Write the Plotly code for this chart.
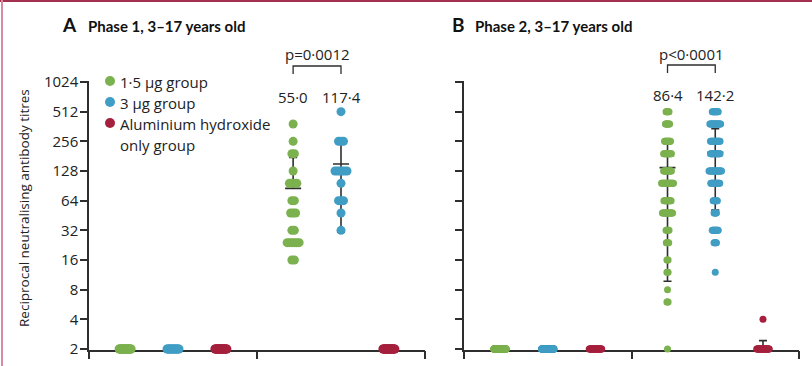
import math
import numpy as np
import plotly.graph_objects as go

# ---------------- data ----------------
titre_levels = [512, 384, 256, 192, 128, 96, 64, 48, 32, 24, 16, 12, 8, 6, 4, 2]

# Phase 1 (panel A)
p1_d0_green = [0] * 15 + [24]
p1_d0_blue = [0] * 15 + [16]
p1_d0_red = [0] * 15 + [24]
p1_d28_green = [0, 1, 1, 2, 1, 4, 2, 3, 2, 6, 2, 0, 0, 0, 0, 0]
p1_d28_blue = [1, 0, 3, 0, 6, 1, 3, 1, 1, 0, 0, 0, 0, 0, 0, 0]
p1_d28_red = [0] * 15 + [24]

# Phase 2 (panel B)
p2_d0_green = [0] * 15 + [127]
p2_d0_blue = [0] * 15 + [132]
p2_d0_red = [0] * 15 + [30]
p2_d28_green = [6, 8, 11, 14, 14, 21, 13, 18, 6, 5, 3, 3, 1, 3, 0, 1]
p2_d28_blue = [11, 19, 17, 17, 22, 16, 8, 5, 11, 5, 0, 1, 0, 0, 0, 0]
p2_d28_red = [0] * 14 + [1, 29]

group_names = ["1·5 μg group", "3 μg group", "Aluminium hydroxide", "only group"]
panel_titles = ["Phase 1, 3–17 years old", "Phase 2, 3–17 years old"]
panel_letters = ["A", "B"]
gmt_labels_p1 = ["55·0", "117·4"]
gmt_labels_p2 = ["86·4", "142·2"]
p_values = ["p=0·0012", "p<0·0001"]
y_ticks = [2, 4, 8, 16, 32, 64, 128, 256, 512, 1024]
y_title = "Reciprocal neutralising antibody titres"

# ---------------- style ----------------
W, H = 812, 366
GREEN, BLUE, RED = "#7bb14e", "#409dc4", "#a5203d"
AX = "#2e2e2e"
FONT = "Open Sans"
TFONT = "Lato"
colors = [GREEN, BLUE, RED]
col_pos = [0.215, 0.5, 0.785]


def px(x):
    return x / W


def py(y):
    return 1 - y / H


panels = [
    dict(xd=(89, 425), xa="x", ya="y", marker=9, step=5.0, cap=24,
         d0=[p1_d0_green, p1_d0_blue, p1_d0_red],
         d28=[p1_d28_green, p1_d28_blue, p1_d28_red]),
    dict(xd=(464, 799), xa="x2", ya="y2", marker=7, step=1.2, cap=25,
         d0=[p2_d0_green, p2_d0_blue, p2_d0_red],
         d28=[p2_d28_green, p2_d28_blue, p2_d28_red]),
]

fig = go.Figure()

for pan in panels:
    unit = pan["xd"][1] - pan["xd"][0]  # px per group
    # error bars first (mean ± SD) for day 28
    for ci, counts in enumerate(pan["d28"]):
        vals = np.repeat(titre_levels, counts).astype(float)
        m = vals.mean()
        sd = vals.std(ddof=1)
        if sd <= 0:
            continue
        xc = 1 + col_pos[ci]
        hi = m + sd
        lo = m - sd
        capw = 8 / unit
        meanw = 16 / unit
        xs = [xc, xc, None, xc - capw, xc + capw, None, xc - meanw, xc + meanw]
        ys = [m if lo <= 0 else lo, hi, None, hi, hi, None, m, m]
        if lo > 0:
            xs += [None, xc - capw, xc + capw]
            ys += [None, lo, lo]
        fig.add_trace(go.Scatter(x=xs, y=ys, mode="lines", xaxis=pan["xa"], yaxis=pan["ya"],
                                 line=dict(color=AX, width=1.6), showlegend=False,
                                 hoverinfo="skip", cliponaxis=False))
    # points
    for gi, groups in enumerate([pan["d0"], pan["d28"]]):
        for ci, counts in enumerate(groups):
            xs, ys = [], []
            for lvl, n in zip(titre_levels, counts):
                if n == 0:
                    continue
                spread = min((n - 1) * pan["step"], pan["cap"])
                offs = np.linspace(-spread / 2, spread / 2, n) if n > 1 else np.array([0.0])
                xs += list(gi + col_pos[ci] + offs / unit)
                ys += [lvl] * n
            fig.add_trace(go.Scatter(x=xs, y=ys, mode="markers", xaxis=pan["xa"], yaxis=pan["ya"],
                                     marker=dict(color=colors[ci], size=pan["marker"], line=dict(width=0)),
                                     showlegend=False, cliponaxis=False, hoverinfo="skip"))

# slight padding of the log range so markers on the boundary are not hidden
lo_r, hi_r = math.log10(2), math.log10(1024)
ppu = (349 - 82) / (hi_r - lo_r)
pad = 0.006
ydom = [py(349 + pad * ppu), py(82 - pad * ppu)]
yrange = [lo_r - pad, hi_r + pad]

axis_common = dict(showgrid=False, zeroline=False, showline=True, linecolor=AX, linewidth=1.5,
                   ticks="outside", tickcolor=AX, tickwidth=1.5, layer="below traces", automargin=False)
fig.update_layout(
    xaxis=dict(domain=[px(89), px(425)], range=[0, 2], tickvals=[0, 1, 2], showticklabels=False,
               ticklen=8, anchor="y", **axis_common),
    yaxis=dict(domain=ydom, type="log", range=yrange, tickvals=y_ticks,
               ticktext=[str(t) for t in y_ticks], ticklen=7, anchor="x", ticklabelstandoff=-1,
               tickfont=dict(family=FONT, size=15, color="#222"), **axis_common),
    xaxis2=dict(domain=[px(464), px(799)], range=[0, 2], tickvals=[0, 1, 2], showticklabels=False,
                ticklen=8, anchor="y2", **axis_common),
    yaxis2=dict(domain=ydom, type="log", range=yrange, tickvals=y_ticks,
                showticklabels=False, ticklen=7, anchor="x2", **axis_common),
)

ann = []
shapes = []
# titles
for letter, title, lx, tx in zip(panel_letters, panel_titles, [60, 450], [86, 473]):
    ann.append(dict(x=px(lx), y=py(25), xref="paper", yref="paper", xanchor="left", yanchor="middle",
                    text="<b>%s</b>" % letter, showarrow=False, font=dict(family=TFONT, size=19, color="#111")))
    ann.append(dict(x=px(tx), y=py(26), xref="paper", yref="paper", xanchor="left", yanchor="middle",
                    text="<b>%s</b>" % title, showarrow=False, font=dict(family=TFONT, size=15, color="#111")))

# y axis title
ann.append(dict(x=px(24), y=py(208), xref="paper", yref="paper", text=y_title, textangle=-90,
                showarrow=False, xanchor="center", yanchor="middle",
                font=dict(family=FONT, size=13.5, color="#222")))

# legend
for i, (c, yy) in enumerate(zip([GREEN, BLUE, RED], [81, 102, 123])):
    shapes.append(dict(type="circle", xref="paper", yref="paper", xsizemode="pixel", ysizemode="pixel",
                       xanchor=px(110), yanchor=py(yy), x0=-5, x1=5, y0=-5, y1=5,
                       fillcolor=c, line=dict(width=0)))
for name, yy in zip(group_names, [81, 102, 123, 144]):
    ann.append(dict(x=px(118), y=py(yy + 1), xref="paper", yref="paper", xanchor="left", yanchor="middle",
                    text=name, showarrow=False, font=dict(family=FONT, size=15, color="#222")))

# GMT labels, brackets and p values
for pan, labels, pv, ylab, ybr in zip(panels, [gmt_labels_p1, gmt_labels_p2], p_values, [97, 95], [66, 65]):
    xa = pan["xa"]
    for ci, lab in enumerate(labels):
        ann.append(dict(x=1 + col_pos[ci], y=py(ylab), xref=xa, yref="paper", text=lab, showarrow=False,
                        xanchor="center", yanchor="middle", font=dict(family=FONT, size=15, color="#222")))
    x0, x1 = 1 + col_pos[0], 1 + col_pos[1]
    shapes.append(dict(type="path", xref=xa, yref="paper",
                       path="M %f,%f L %f,%f L %f,%f L %f,%f" % (x0, py(ybr + 8), x0, py(ybr), x1, py(ybr), x1, py(ybr + 8)),
                       line=dict(color=AX, width=1.3)))
    ann.append(dict(x=(x0 + x1) / 2, y=py(54), xref=xa, yref="paper", text=pv, showarrow=False,
                    xanchor="center", yanchor="middle", font=dict(family=FONT, size=15, color="#222")))

# page borders
shapes.append(dict(type="rect", xref="paper", yref="paper", x0=0, x1=1, y0=py(2), y1=1,
                   fillcolor="#a3304f", line=dict(width=0)))
shapes.append(dict(type="rect", xref="paper", yref="paper", x0=px(1), x1=px(3), y0=0, y1=1,
                   fillcolor="#d68ba3", line=dict(width=0)))

fig.update_layout(width=W, height=H, margin=dict(l=0, r=0, t=0, b=0, autoexpand=False),
                  plot_bgcolor="white", paper_bgcolor="white", annotations=ann, shapes=shapes,
                  showlegend=False, font=dict(family=FONT))

fig.write_html("out.html", config={"displayModeBar": False},
               post_script="document.body.style.margin='0';")
